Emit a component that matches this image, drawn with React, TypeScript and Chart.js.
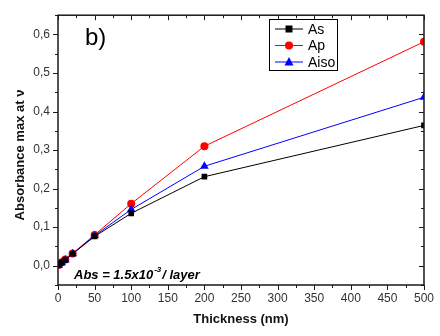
import React, { useEffect, useRef } from "react";
import { Chart, registerables } from "chart.js";

Chart.register(...registerables);

const thickness = [1, 5, 10, 20, 50, 100, 200, 500];
const asValues = [0.002, 0.008, 0.015, 0.031, 0.076, 0.136, 0.231, 0.364];
const apValues = [0.002, 0.009, 0.016, 0.032, 0.080, 0.161, 0.310, 0.581];
const aisoValues = [0.002, 0.008, 0.015, 0.031, 0.078, 0.146, 0.258, 0.437];
const seriesNames = ["As", "Ap", "Aiso"];
const seriesColors = ["#000000", "#ff0000", "#0000ff"];
const seriesMarkers = ["rect", "circle", "triangle"];
const xTitle = "Thickness (nm)";
const yTitle = "Absorbance max at \u03bd";
const panelLabel = "b)";

const FONT = "Arial, 'Liberation Sans', sans-serif";

function drawMarker(ctx: CanvasRenderingContext2D, kind: string, x: number, y: number, color: string) {
  ctx.save();
  ctx.fillStyle = color;
  ctx.beginPath();
  if (kind === "rect") {
    ctx.rect(x - 3.5, y - 3.5, 7, 7);
  } else if (kind === "circle") {
    ctx.arc(x, y, 4, 0, Math.PI * 2);
  } else {
    ctx.moveTo(x, y - 5);
    ctx.lineTo(x + 4.5, y + 3.5);
    ctx.lineTo(x - 4.5, y + 3.5);
    ctx.closePath();
  }
  ctx.fill();
  ctx.restore();
}

const framePlugin = {
  id: "frame",
  afterDraw(chart: any) {
    const ctx = chart.ctx as CanvasRenderingContext2D;
    const { left, right, top, bottom } = chart.chartArea;
    const xs = chart.scales.x;
    const ys = chart.scales.y;
    ctx.save();
    ctx.strokeStyle = "#1a1a1a";
    ctx.lineWidth = 1.5;
    ctx.strokeRect(left, top, right - left, bottom - top);
    ctx.lineWidth = 1;
    for (let v = 0; v <= 500; v += 25) {
      const px = Math.round(xs.getPixelForValue(v)) + 0.5;
      const len = v % 50 === 0 ? 5 : 3;
      ctx.beginPath();
      ctx.moveTo(px, bottom);
      ctx.lineTo(px, bottom + len);
      ctx.moveTo(px, top);
      ctx.lineTo(px, top + len);
      ctx.stroke();
    }
    for (let i = -1; i <= 13; i++) {
      const v = i * 0.05;
      const py = Math.round(ys.getPixelForValue(v)) + 0.5;
      if (py < top - 1 || py > bottom + 1) continue;
      const len = i % 2 === 0 ? 5 : 3;
      ctx.beginPath();
      ctx.moveTo(left, py);
      ctx.lineTo(left - len, py);
      ctx.moveTo(right, py);
      ctx.lineTo(right - len, py);
      ctx.stroke();
    }
    // y title
    ctx.save();
    ctx.translate(20, 155);
    ctx.rotate(-Math.PI / 2);
    ctx.font = `bold 13px ${FONT}`;
    ctx.fillStyle = "#111";
    ctx.textAlign = "center";
    ctx.textBaseline = "middle";
    ctx.fillText(yTitle, 0, 0);
    ctx.restore();
    // legend
    const lx = 269, ly = 19, lw = 68, lh = 51;
    ctx.fillStyle = "#ffffff";
    ctx.fillRect(lx, ly, lw, lh);
    ctx.strokeStyle = "#000";
    ctx.lineWidth = 1;
    ctx.strokeRect(lx + 0.5, ly + 0.5, lw, lh);
    ctx.font = `14px ${FONT}`;
    ctx.textBaseline = "middle";
    ctx.textAlign = "left";
    for (let i = 0; i < seriesNames.length; i++) {
      const ry = 29 + i * 16.5;
      ctx.strokeStyle = seriesColors[i];
      ctx.beginPath();
      ctx.moveTo(275, ry);
      ctx.lineTo(303, ry);
      ctx.stroke();
      drawMarker(ctx, seriesMarkers[i], 289, ry, seriesColors[i]);
      ctx.fillStyle = "#000";
      ctx.fillText(seriesNames[i], 308, ry + 1);
    }
    ctx.font = `24px ${FONT}`;
    ctx.textBaseline = "alphabetic";
    ctx.fillStyle = "#000";
    ctx.fillText(panelLabel, 85, 45);
    ctx.font = `italic bold 13px ${FONT}`;
    const part1 = "Abs = 1.5x10";
    ctx.fillText(part1, 74, 279);
    const w = ctx.measureText(part1).width;
    ctx.font = `italic bold 8px ${FONT}`;
    ctx.fillText("-3", 74 + w + 1, 272);
    const w2 = ctx.measureText("-3").width;
    ctx.font = `italic bold 13px ${FONT}`;
    ctx.fillText("/ layer", 74 + w + w2 + 2, 279);
    ctx.restore();
  },
};

export default function App() {
  const ref = useRef<HTMLCanvasElement | null>(null);
  useEffect(() => {
    document.body.style.margin = "0";
    const mk = (vals: number[], i: number) => ({
      label: seriesNames[i],
      data: thickness.map((t, j) => ({ x: t, y: vals[j] })),
      borderColor: seriesColors[i],
      backgroundColor: seriesColors[i],
      borderWidth: 1,
      pointStyle: seriesMarkers[i] as any,
      pointRadius: seriesMarkers[i] === "triangle" ? 5 : 4,
      pointBorderWidth: 0,
      tension: 0,
    });
    const chart = new Chart(ref.current!, {
      type: "line",
      data: {
        datasets: [mk(asValues, 0), mk(aisoValues, 2), mk(apValues, 1)],
      },
      options: {
        animation: false,
        responsive: false,
        maintainAspectRatio: false,
        layout: { padding: { top: 7, right: 12, left: 0, bottom: 0 } },
        plugins: { legend: { display: false }, tooltip: { enabled: false } },
        scales: {
          x: {
            type: "linear",
            min: 0,
            max: 500,
            ticks: {
              stepSize: 50,
              color: "#333",
              font: { family: FONT, size: 12 },
              padding: 6,
              maxRotation: 0,
            },
            grid: { display: false, drawTicks: false },
            border: { display: false },
            title: {
              display: true,
              text: xTitle,
              color: "#111",
              font: { family: FONT, size: 13, weight: "bold" },
              padding: { top: 6, bottom: 9 },
            },
            afterFit: (s: any) => {
              s.height = 51;
            },
          },
          y: {
            type: "linear",
            min: -0.05,
            max: 0.65,
            afterBuildTicks: (s: any) => {
              s.ticks = [0, 0.1, 0.2, 0.3, 0.4, 0.5, 0.6].map((v) => ({ value: v }));
            },
            ticks: {
              color: "#333",
              font: { family: FONT, size: 12 },
              padding: 8,
              callback: (v: any) => Number(v).toFixed(1).replace(".", ","),
            },
            grid: { display: false, drawTicks: false },
            border: { display: false },
            title: { display: false },
            afterFit: (s: any) => {
              s.width = 58;
            },
          },
        },
      },
      plugins: [framePlugin],
    });
    return () => chart.destroy();
  }, []);
  return (
    <div style={{ width: 440, height: 336, background: "#fff" }}>
      <canvas ref={ref} width={440} height={336} />
    </div>
  );
}
